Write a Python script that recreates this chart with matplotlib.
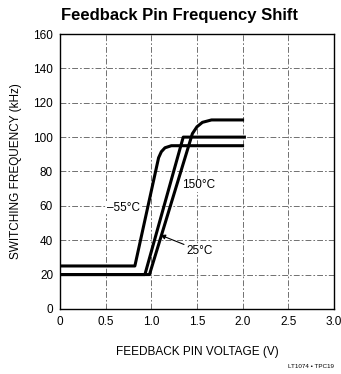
import matplotlib
matplotlib.use("Agg")
import matplotlib.pyplot as plt

# switching frequency vs feedback pin voltage at three junction temperatures
v_m55 = [0.0, 0.82, 1.08, 1.11, 1.15, 1.22, 2.0]
f_m55 = [25, 25, 88, 91.5, 93.8, 95, 95]

v_25 = [0.0, 0.93, 1.35, 2.02]
f_25 = [20, 20, 100, 100]

v_150 = [0.0, 0.98, 1.45, 1.50, 1.56, 1.66, 2.0]
f_150 = [20, 20, 102, 106, 108.6, 110, 110]

x_ticks = [0, 0.5, 1.0, 1.5, 2.0, 2.5, 3.0]
x_labels = ["0", "0.5", "1.0", "1.5", "2.0", "2.5", "3.0"]
y_ticks = list(range(0, 161, 20))

plt.rcParams["font.family"] = ["Liberation Sans", "DejaVu Sans"]

fig = plt.figure(figsize=(3.41, 3.74), dpi=100)
ax = fig.add_axes([0.176, 0.174, 0.803, 0.735])

for v, f in [(v_m55, f_m55), (v_25, f_25), (v_150, f_150)]:
    ax.plot(v, f, color="black", lw=2.2, solid_joinstyle="round")

ax.set_xlim(0, 3.0)
ax.set_ylim(0, 160)
ax.set_xticks(x_ticks)
ax.set_xticklabels(x_labels)
ax.set_yticks(y_ticks)
ax.tick_params(length=0, labelsize=8.5, pad=5)
ax.grid(True, color="0.35", lw=0.6, ls=(0, (7, 2.5, 2, 2.5)))
for s in ax.spines.values():
    s.set_linewidth(1.0)

# curve labels sit on a white patch so the grid doesn't run through them
box = dict(facecolor="white", edgecolor="none", pad=0.5)
ax.text(0.51, 59, "\u201355\u00b0C", fontsize=8.5, va="center", bbox=box)
ax.text(1.34, 72, "150\u00b0C", fontsize=8.5, va="center", bbox=box)
ax.annotate("25\u00b0C", xy=(1.10, 43), xytext=(1.38, 34), fontsize=8.5,
            va="center", bbox=box,
            arrowprops=dict(arrowstyle="-|>", color="black", lw=0.8,
                            shrinkA=1, shrinkB=0, mutation_scale=7))

ax.set_xlabel("FEEDBACK PIN VOLTAGE (V)", fontsize=8.5, labelpad=13)
ax.set_ylabel("SWITCHING FREQUENCY (kHz)", fontsize=8.5, labelpad=8)

fig.text(0.525, 0.958, "Feedback Pin Frequency Shift", ha="center", va="center",
         fontsize=12, fontweight="bold",
         family=["Liberation Sans Narrow", "Liberation Sans", "DejaVu Sans"])
fig.text(0.98, 0.021, "LT1074 \u2022 TPC19", ha="right", va="center", fontsize=4.5)

fig.savefig("out.png", dpi=100)
